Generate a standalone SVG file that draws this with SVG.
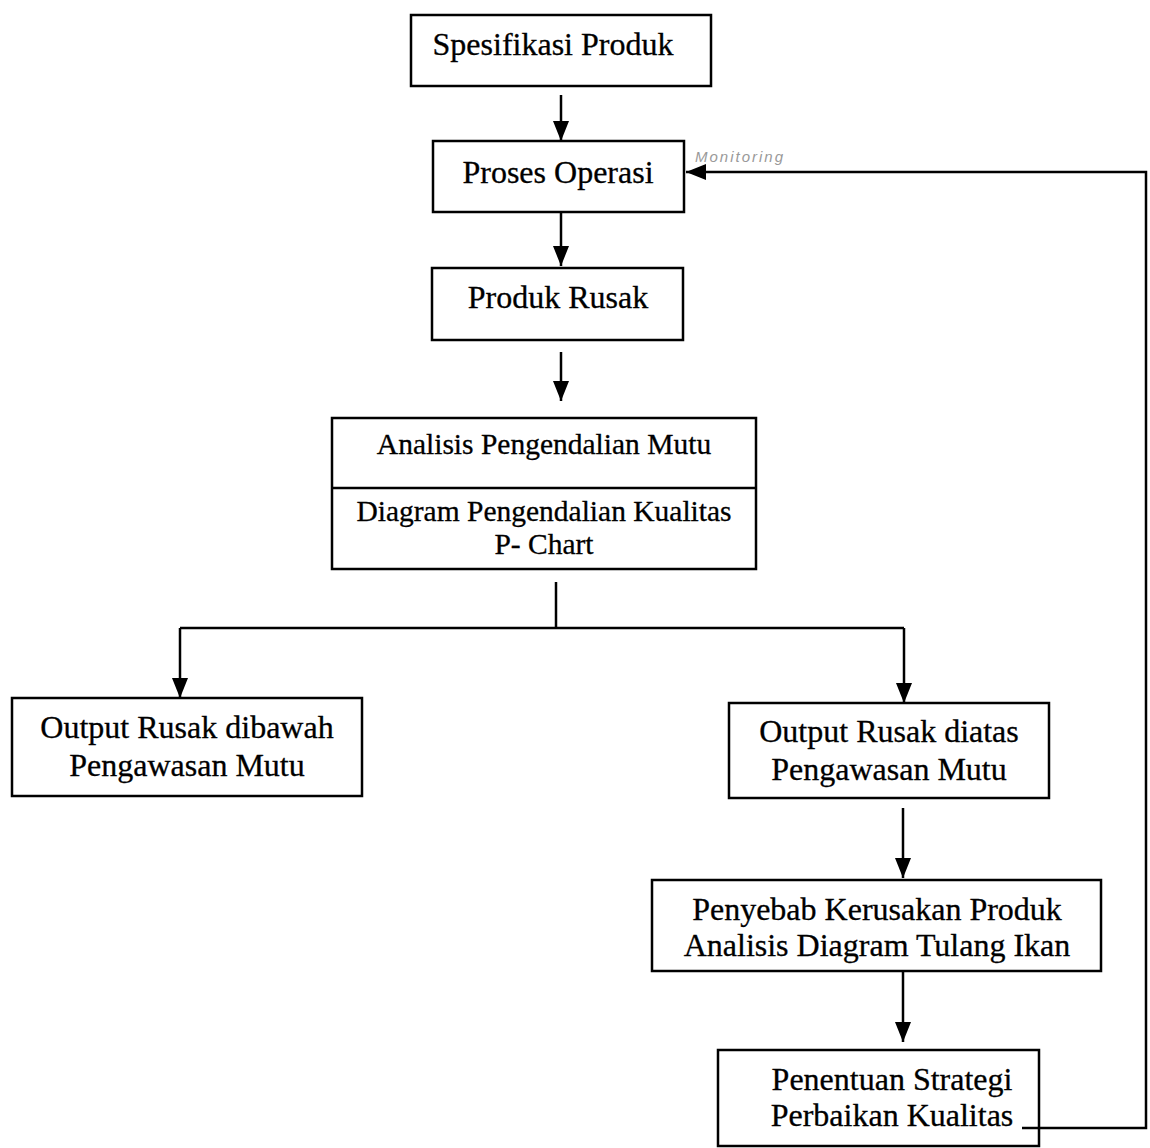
<svg xmlns="http://www.w3.org/2000/svg" width="1150" height="1148" viewBox="0 0 1150 1148">
<style>
.box{fill:#fff;stroke:#000;stroke-width:2.5}
.t{font-family:"Liberation Serif","Times New Roman",serif;font-size:32px;fill:#000;stroke:#000;stroke-width:0.3;text-anchor:middle}
.s{font-size:29.5px}
.c{fill:none;stroke:#000;stroke-width:2.5}
.hw{font-family:"Liberation Sans",sans-serif;font-size:15px;fill:#999;font-style:italic;letter-spacing:2px}
</style>
<defs>
<marker id="arr" viewBox="0 0 20 20" refX="20" refY="10" markerWidth="20" markerHeight="20" markerUnits="userSpaceOnUse" orient="auto">
<path d="M0,2 L20,10 L0,18 Z" fill="#000"/>
</marker>
</defs>
<rect width="1150" height="1148" fill="#fff"/>
<g id="connectors">
<line class="c" x1="561" y1="95" x2="561" y2="141" marker-end="url(#arr)"/>
<line class="c" x1="561" y1="213" x2="561" y2="266" marker-end="url(#arr)"/>
<line class="c" x1="561" y1="352" x2="561" y2="401" marker-end="url(#arr)"/>
<polyline class="c" points="556,582 556,628"/>
<polyline class="c" points="180,628 904,628"/>
<line class="c" x1="180" y1="628" x2="180" y2="698" marker-end="url(#arr)"/>
<line class="c" x1="904" y1="628" x2="904" y2="703" marker-end="url(#arr)"/>
<line class="c" x1="903" y1="808" x2="903" y2="878" marker-end="url(#arr)"/>
<line class="c" x1="903" y1="972" x2="903" y2="1042" marker-end="url(#arr)"/>
<polyline class="c" points="1022,1128 1146,1128 1146,172 686,172" marker-end="url(#arr)"/>
<text class="hw" x="695" y="162">Monitoring</text>
</g>
<g id="n1"><rect class="box" x="411" y="15" width="300" height="71"/><text class="t" x="553" y="55">Spesifikasi Produk</text></g>
<g id="n2"><rect class="box" x="433" y="141" width="251" height="71"/><text class="t" x="558" y="183">Proses Operasi</text></g>
<g id="n3"><rect class="box" x="432" y="268" width="251" height="72"/><text class="t" x="558" y="308">Produk Rusak</text></g>
<g id="n4"><rect class="box" x="332" y="418" width="424" height="151"/><line class="c" x1="332" y1="488" x2="756" y2="488"/>
<text class="t s" x="544" y="454">Analisis Pengendalian Mutu</text>
<text class="t s" x="544" y="521">Diagram Pengendalian Kualitas</text>
<text class="t s" x="544" y="554">P- Chart</text></g>
<g id="n5"><rect class="box" x="12" y="698" width="350" height="98"/><text class="t" x="187" y="738">Output Rusak dibawah</text><text class="t" x="187" y="776">Pengawasan Mutu</text></g>
<g id="n6"><rect class="box" x="729" y="703" width="320" height="95"/><text class="t" x="889" y="742">Output Rusak diatas</text><text class="t" x="889" y="780">Pengawasan Mutu</text></g>
<g id="n7"><rect class="box" x="652" y="880" width="449" height="91"/><text class="t" x="877" y="920">Penyebab Kerusakan Produk</text><text class="t" x="877" y="956">Analisis Diagram Tulang Ikan</text></g>
<g id="n8"><rect class="box" x="718" y="1050" width="321" height="96"/><text class="t" x="892" y="1090">Penentuan Strategi</text><text class="t" x="892" y="1126">Perbaikan Kualitas</text></g>
<line class="c" x1="1022" y1="1128" x2="1040" y2="1128"/>
</svg>
